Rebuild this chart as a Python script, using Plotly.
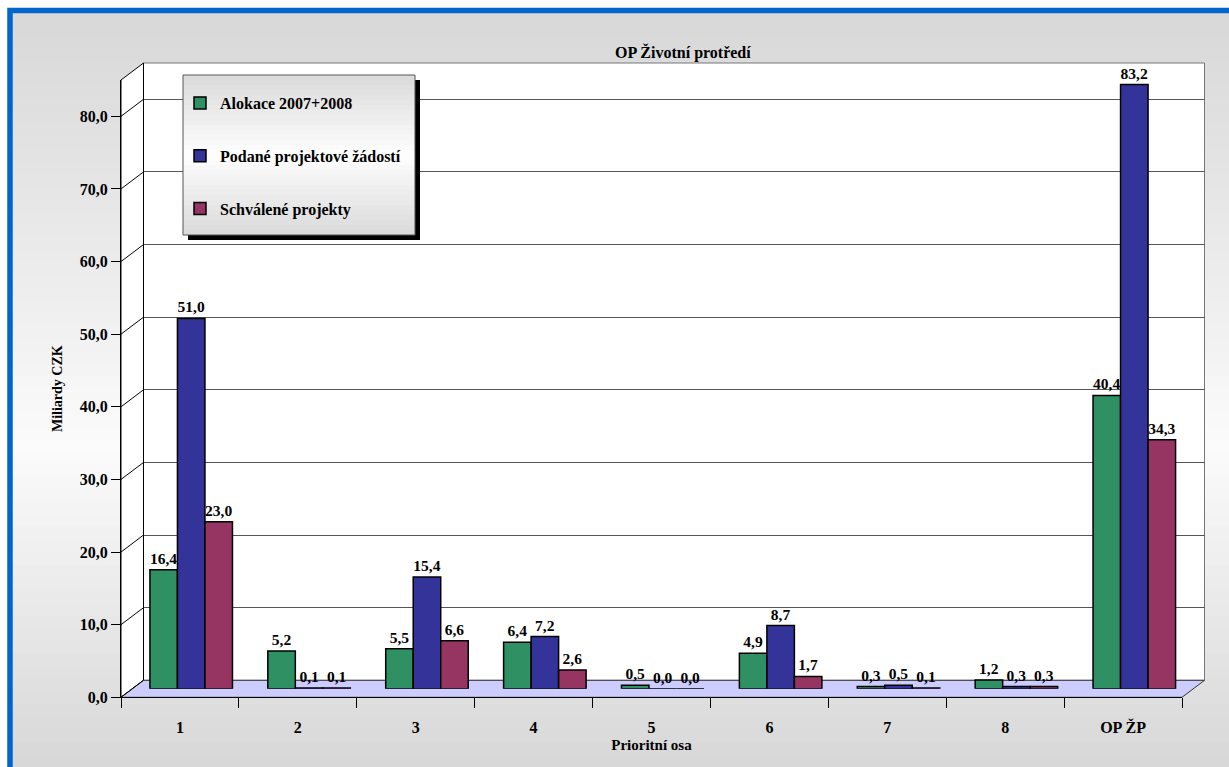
import plotly.graph_objects as go

# ---------------- data ----------------
categories = ["1", "2", "3", "4", "5", "6", "7", "8", "OP ŽP"]
alokace = [16.4, 5.2, 5.5, 6.4, 0.5, 4.9, 0.3, 1.2, 40.4]
podane = [51.0, 0.1, 15.4, 7.2, 0.0, 8.7, 0.5, 0.3, 83.2]
schvalene = [23.0, 0.1, 6.6, 2.6, 0.0, 1.7, 0.1, 0.3, 34.3]
series_names = ["Alokace 2007+2008", "Podané projektové žádostí", "Schválené projekty"]
y_ticks = [0, 10, 20, 30, 40, 50, 60, 70, 80]
y_max = 85

# ---------------- geometry helpers (pixels -> paper) ----------------
W, H = 1229, 767
def px(x):
    return x / W
def py(y):
    return 1 - y / H

FONT = "Liberation Serif"
colors = ["#2f9063", "#333399", "#963462"]

# front frame
fx0, fx1 = 121, 1182
fy0, fy1 = 697.3, 80          # y pixel of value 0 and of y_max
dx, dy = 22.5, 17             # depth offset of 3D box
span = fy0 - fy1

def vy_front(v):
    return py(fy0 - v / y_max * span)
def vy_back(v):
    return py(fy0 - dy - v / y_max * span)

def band_gray(t, edge, mid, t_mid):
    if t < t_mid:
        g = edge + (mid - edge) * (t / t_mid)
    else:
        g = mid - (mid - edge) * ((t - t_mid) / (1 - t_mid))
    return int(round(g))

fig = go.Figure()

# empty traces that create the back-wall subplot and the front axes
fig.add_trace(go.Scatter(x=[], y=[], xaxis="x2", yaxis="y2", showlegend=False))
fig.add_trace(go.Scatter(x=categories, y=[None] * len(categories),
                         xaxis="x", yaxis="y", showlegend=False))

for name, vals, col in zip(series_names, [alokace, podane, schvalene], colors):
    fig.add_trace(go.Bar(
        x=categories, y=vals, name=name, xaxis="x3", yaxis="y3",
        marker=dict(color=col, line=dict(color="black", width=1.5)),
        texttemplate="%{y:.1f}", textposition="outside",
        textfont=dict(family=FONT, size=15.5, color="black", weight="bold"),
        cliponaxis=False, legendgroup=name,
    ))

shapes = []
# background gradient bands
n = 60
y_start, y_end = 10, 767
for i in range(n):
    g = band_gray((i + 0.5) / n, 215, 251, 0.58)
    ya = y_start + (y_end - y_start) * i / n
    yb = y_start + (y_end - y_start) * (i + 1) / n + 1
    shapes.append(dict(type="rect", xref="paper", yref="paper", layer="below",
                       x0=px(10), x1=px(1240), y0=py(ya), y1=py(yb),
                       fillcolor=f"rgb({g},{g},{g})", line=dict(width=0)))
# blue frame
shapes.append(dict(type="rect", xref="paper", yref="paper", layer="above",
                   x0=px(10), x1=px(1245), y0=py(10.5), y1=py(790),
                   fillcolor="rgba(0,0,0,0)", line=dict(color="#0066cc", width=5.5)))
# back wall
shapes.append(dict(type="rect", xref="paper", yref="paper", layer="below",
                   x0=px(fx0 + dx), x1=px(fx1 + dx), y0=vy_back(0), y1=vy_back(y_max),
                   fillcolor="white", line=dict(color="#777777", width=1)))
# side wall
shapes.append(dict(type="path", xref="paper", yref="paper", layer="below",
                   path=(f"M {px(fx0)} {vy_front(0)} L {px(fx0 + dx)} {vy_back(0)} "
                         f"L {px(fx0 + dx)} {vy_back(y_max)} L {px(fx0)} {vy_front(y_max)} Z"),
                   fillcolor="white", line=dict(color="black", width=1)))
# floor
shapes.append(dict(type="path", xref="paper", yref="paper", layer="below",
                   path=(f"M {px(fx0)} {vy_front(0)} L {px(fx0 + dx)} {vy_back(0)} "
                         f"L {px(fx1 + dx)} {vy_back(0)} L {px(fx1)} {vy_front(0)} Z"),
                   fillcolor="#ccccff", line=dict(color="#333333", width=1)))
# diagonal tick connectors on side wall
for v in y_ticks:
    shapes.append(dict(type="line", xref="paper", yref="paper", layer="below",
                       x0=px(fx0), y0=vy_front(v), x1=px(fx0 + dx), y1=vy_back(v),
                       line=dict(color="black", width=1)))
# legend box with shadow and gradient fill
lx0, lx1, ly0, ly1 = 183, 415, 75, 235
shapes.append(dict(type="rect", xref="paper", yref="paper", layer="above",
                   x0=px(lx0 + 5), x1=px(lx1 + 5), y0=py(ly0 + 5), y1=py(ly1 + 5),
                   fillcolor="black", line=dict(width=0)))
nl = 32
for i in range(nl):
    g = band_gray((i + 0.5) / nl, 218, 254, 0.5)
    ya = ly0 + (ly1 - ly0) * i / nl
    yb = min(ly1, ly0 + (ly1 - ly0) * (i + 1) / nl + 0.8)
    shapes.append(dict(type="rect", xref="paper", yref="paper", layer="above",
                       x0=px(lx0), x1=px(lx1), y0=py(ya), y1=py(yb),
                       fillcolor=f"rgb({g},{g},{g})", line=dict(width=0)))
shapes.append(dict(type="rect", xref="paper", yref="paper", layer="above",
                   x0=px(lx0), x1=px(lx1), y0=py(ly0), y1=py(ly1),
                   fillcolor="rgba(0,0,0,0)", line=dict(color="#555555", width=1)))

axis_font = dict(family=FONT, size=16, color="black", weight="bold")

fig.update_layout(
    width=W, height=H,
    margin=dict(l=0, r=0, t=0, b=0),
    paper_bgcolor="white",
    plot_bgcolor="rgba(0,0,0,0)",
    separators=", ",
    barmode="group", bargap=0.3, bargroupgap=0,
    font=dict(family=FONT, color="black"),
    shapes=shapes,
    xaxis=dict(domain=[px(fx0), px(fx1)], anchor="y", type="category",
               categoryorder="array", categoryarray=categories,
               range=[-0.5, len(categories) - 0.5],
               showline=True, linecolor="black", linewidth=1,
               ticks="outside", ticklen=10, tickcolor="black", tickson="boundaries",
               tickfont=axis_font, showgrid=False, zeroline=False, automargin=False,
               ticklabelstandoff=15,
               title=dict(text="Prioritní osa",
                          font=dict(family=FONT, size=15, weight="bold"), standoff=4)),
    yaxis=dict(domain=[py(fy0), py(fy1)], anchor="x", range=[0, y_max],
               tickvals=y_ticks, tickformat=".1f", ticks="outside", ticklen=9,
               tickcolor="black", showline=True, linecolor="black", linewidth=1,
               tickfont=axis_font, showgrid=False, zeroline=False, automargin=False,
               title=dict(text="Miliardy CZK",
                          font=dict(family=FONT, size=14, weight="bold"), standoff=13)),
    xaxis2=dict(domain=[px(fx0 + dx), px(fx1 + dx)], anchor="y2", range=[0, 1],
                visible=False),
    yaxis2=dict(domain=[py(fy0 - dy), py(fy1 - dy)], anchor="x2", range=[0, y_max],
                tickvals=y_ticks, showgrid=True, gridcolor="#555555", gridwidth=1,
                showticklabels=False, zeroline=False, showline=False, ticks=""),
    xaxis3=dict(domain=[px(fx0 + dx / 2), px(fx1 + dx / 2)], anchor="y3", type="category",
                categoryorder="array", categoryarray=categories,
                range=[-0.5, len(categories) - 0.5], visible=False),
    yaxis3=dict(domain=[py(fy0 - dy / 2), py(fy1 - dy / 2)], anchor="x3",
                range=[0, y_max], visible=False),
    legend=dict(x=px(180), y=py(86), xanchor="left", yanchor="top",
                bgcolor="rgba(0,0,0,0)", borderwidth=0,
                font=dict(family=FONT, size=16, color="black", weight="bold"),
                tracegroupgap=29, itemwidth=30),
    annotations=[dict(text="OP Životní protředí", xref="paper", yref="paper",
                      x=px(683), y=py(41), showarrow=False,
                      font=dict(family=FONT, size=16, color="black", weight="bold"))],
)

fig.write_html("out.html", config={"displayModeBar": False},
               post_script="document.body.style.margin='0px';")
